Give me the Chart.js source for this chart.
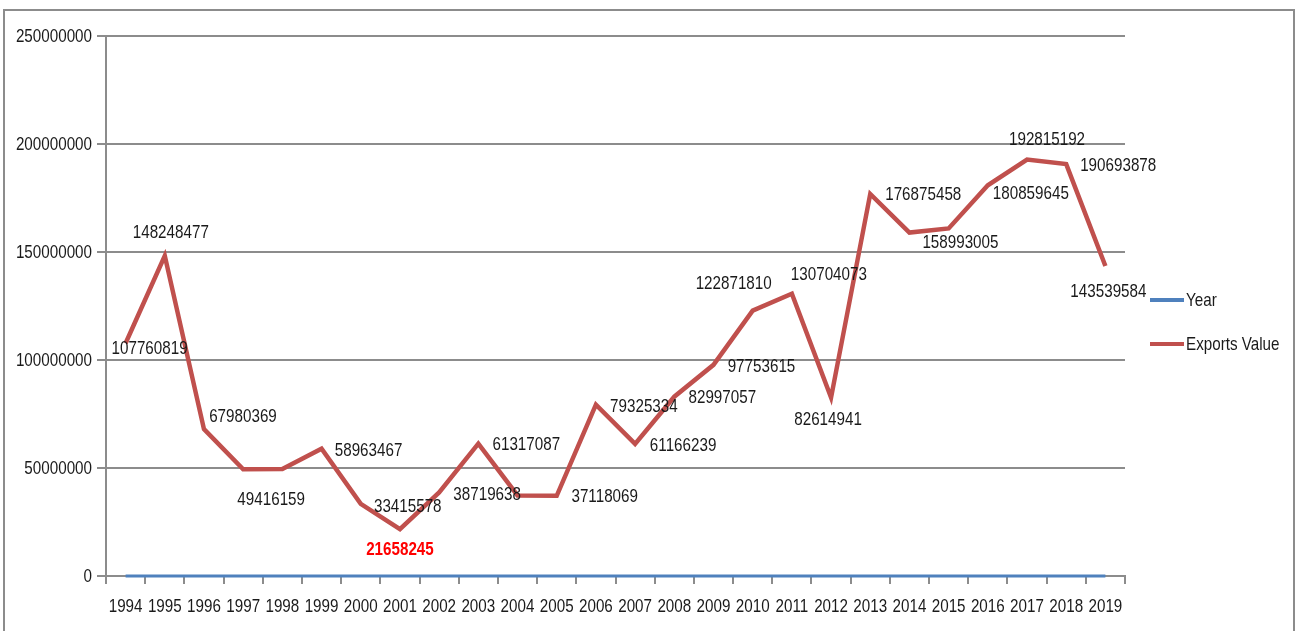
<!DOCTYPE html>
<html>
<head>
<meta charset="utf-8">
<script src="https://cdn.jsdelivr.net/npm/chart.js@4"></script>
<style>
  html, body { margin: 0; padding: 0; background: #fff; }
  #frame { position: absolute; left: 3px; top: 9px; width: 1288px; height: 640px; border: 2px solid #8c8c8c; }
  #exportsChart { position: absolute; left: 0; top: 0; }
</style>
</head>
<body>
<div id="frame"></div>
<canvas id="exportsChart" width="1296" height="631"></canvas>
<script>
var years = ["1994", "1995", "1996", "1997", "1998", "1999", "2000", "2001", "2002", "2003", "2004", "2005", "2006",
             "2007", "2008", "2009", "2010", "2011", "2012", "2013", "2014", "2015", "2016", "2017", "2018", "2019"];
var yearValues = [1994, 1995, 1996, 1997, 1998, 1999, 2000, 2001, 2002, 2003, 2004, 2005, 2006,
                  2007, 2008, 2009, 2010, 2011, 2012, 2013, 2014, 2015, 2016, 2017, 2018, 2019];
var exportsValue = [107760819, 148248477, 67980369, 49416159, 49500000, 58963467, 33415578, 21658245, 38719638,
                    61317087, 37300000, 37118069, 79325334, 61166239, 82997057, 97753615, 122871810, 130704073,
                    82614941, 176875458, 158993005, 160900000, 180859645, 192815192, 190693878, 143539584];
var yTicks = [0, 50000000, 100000000, 150000000, 200000000, 250000000];

// where each data label sits relative to its point (null = label hidden in the original)
var labelShift = [[24, 6], [6, -23], [39, -12], [28, 31], null, [47, 2], [47, 3], [0, 21], [48, 2], [48, 1],
                  null, [48, 1], [48, 2], [48, 2], [48, 1], [48, 2], [-19, -27], [37, -19], [-3, 22], [53, 1],
                  [51, 10], null, [43, 8], [20, -20], [52, 2], [3, 26]];

var FONT = "'Liberation Sans', Arial, sans-serif";
var GRID = '#8c8c8c';
var INK = '#1a1a1a';

// the original uses a narrow font, so squeeze the text horizontally
function narrowText(ctx, text, x, y, align, bold, color) {
  ctx.save();
  ctx.translate(x, y);
  ctx.scale(0.8, 1);
  ctx.font = (bold ? 'bold ' : '') + '19px ' + FONT;
  ctx.fillStyle = color;
  ctx.textAlign = align;
  ctx.textBaseline = 'middle';
  ctx.fillText(text, 0, 0);
  ctx.restore();
}

var tickText = {
  id: 'tickText',
  afterDraw: function(chart) {
    var ctx = chart.ctx;
    var xs = chart.scales.x, ys = chart.scales.y;
    xs.ticks.forEach(function(t, i) {
      narrowText(ctx, years[i], xs.getPixelForTick(i), xs.top + 31, 'center', false, INK);
    });
    ys.ticks.forEach(function(t, i) {
      narrowText(ctx, String(t.value), ys.right - 14, ys.getPixelForTick(i) + 1, 'right', false, INK);
    });
  }
};

var dataLabels = {
  id: 'dataLabels',
  afterDatasetsDraw: function(chart) {
    var ctx = chart.ctx;
    var meta = chart.getDatasetMeta(1);
    var minVal = Math.min.apply(null, exportsValue);
    meta.data.forEach(function(pt, i) {
      var s = labelShift[i];
      if (!s) return;
      var isMin = exportsValue[i] === minVal;
      narrowText(ctx, String(exportsValue[i]), pt.x + s[0], pt.y + s[1], 'center', isMin, isMin ? '#ff0000' : INK);
    });
  }
};

var sideLegend = {
  id: 'sideLegend',
  afterDraw: function(chart) {
    var ctx = chart.ctx;
    chart.data.datasets.forEach(function(ds, i) {
      var y = 300 + i * 44;
      ctx.save();
      ctx.strokeStyle = ds.borderColor;
      ctx.lineWidth = 4;
      ctx.beginPath();
      ctx.moveTo(1150, y);
      ctx.lineTo(1184, y);
      ctx.stroke();
      ctx.restore();
      narrowText(ctx, ds.label, 1186, y + 1, 'left', false, INK);
    });
  }
};

function buildChart() {
  var ctx = document.getElementById('exportsChart').getContext('2d');
  var chart = new Chart(ctx, {
    type: 'line',
    data: {
      labels: years,
      datasets: [{
        label: "Year",
        data: yearValues,
        borderColor: '#4f81bd',
        backgroundColor: '#4f81bd',
        borderWidth: 3,
        pointRadius: 0,
        tension: 0,
        clip: false
      }, {
        label: "Exports Value",
        data: exportsValue,
        borderColor: '#c0504d',
        backgroundColor: '#c0504d',
        borderWidth: 4.5,
        pointRadius: 0,
        tension: 0
      }]
    },
    options: {
      responsive: false,
      animation: false,
      devicePixelRatio: 1,
      layout: { padding: { left: 0, top: 36, right: 171, bottom: 0 } },
      plugins: { legend: { display: false }, tooltip: { enabled: false } },
      scales: {
        x: {
          offset: true,
          grid: { drawOnChartArea: false, drawTicks: true, tickLength: 8, color: GRID, lineWidth: 2, offset: true },
          border: { display: true, color: GRID, width: 2 },
          ticks: { color: 'rgba(0,0,0,0)', maxRotation: 0, autoSkip: false },
          afterFit: function(scale) { scale.height = 55; }
        },
        y: {
          min: 0,
          max: 250000000,
          afterBuildTicks: function(scale) { scale.ticks = yTicks.map(function(v) { return { value: v }; }); },
          grid: { color: GRID, lineWidth: 2, tickLength: 9 },
          border: { display: true, color: GRID, width: 2 },
          ticks: { color: 'rgba(0,0,0,0)' },
          afterFit: function(scale) { scale.width = 106; }
        }
      }
    },
    plugins: [dataLabels, tickText, sideLegend]
  });
}

buildChart();
</script>
</body>
</html>
